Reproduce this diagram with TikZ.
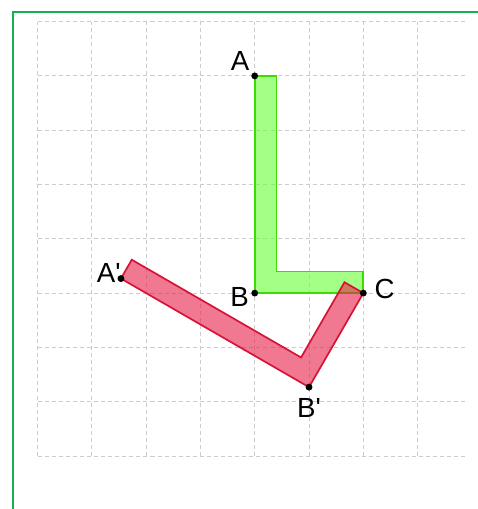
\documentclass[tikz,border=0pt]{standalone}
\usepackage{fontspec}
\setmainfont{Liberation Sans}
\usepackage{tikz}
\usetikzlibrary{positioning, calc}
\usepackage{xcolor}
\definecolor{framegreen}{RGB}{20,175,80}
\definecolor{Lgreen}{RGB}{102,255,51}
\definecolor{Ledge}{RGB}{60,220,0}
\definecolor{Lred}{RGB}{230,30,70}
\definecolor{Redge}{RGB}{215,20,55}

\begin{document}
\begin{tikzpicture}[
        gridline/.style={gray!40, line width=0.5pt, dash pattern=on 2.1pt off 1.6pt},
        frameline/.style={framegreen, line width=1.1pt},
        origL/.style={draw=Ledge, fill=Lgreen, fill opacity=0.6, line width=0.9pt, line join=miter},
        imageL/.style={draw=Redge, fill=Lred, fill opacity=0.6, line width=0.9pt, line join=miter},
        lbl/.style={inner sep=0pt, font=\fontsize{14.5}{17}\selectfont}
    ]
        \useasboundingbox (-0.691,-0.976) rectangle (8.112,8.398);

        % grid and frame
        \foreach \x in {0,...,7}
            \draw[gridline] (\x,0) -- (\x,8);
        \foreach \y in {0,...,8}
            \draw[gridline] (0,\y) -- (7.87,\y);
        \draw[frameline] (-0.451,-0.976) -- (-0.451,8.177) -- (8.112,8.177);

        \coordinate (A) at (4,7);
        \coordinate (B) at (4,3);
        \coordinate (C) at (6,3);

        % original L
        \draw[origL] (A) -- (4.4,7) -- (4.4,3.4) -- (6,3.4) -- (C) -- (B) -- cycle;

        % L turned by 60 degrees about C
        \begin{scope}[rotate around={60:(C)}]
            \coordinate (Ap) at (4,7);
            \coordinate (Bp) at (4,3);
            \draw[imageL] (Ap) -- (4.4,7) -- (4.4,3.4) -- (6,3.4) -- (C) -- (Bp) -- cycle;
        \end{scope}

        \foreach \p in {A, B, C, Ap, Bp}
            \fill (\p) circle (1.8pt);

        \node[lbl, above left=0.1cm and 0.09cm of A] (lA) {A};
        \node[lbl, left=0.1cm of B, yshift=-0.07cm] (lB) {B};
        \node[lbl, right=0.2cm of C, yshift=0.07cm] (lC) {C};
        \node[lbl, left=0cm of Ap, yshift=0.1cm] (lAp) {A\textquotesingle};
        \node[lbl, below=0.2cm of Bp] (lBp) {B\textquotesingle};
    \end{tikzpicture}
\end{document}
